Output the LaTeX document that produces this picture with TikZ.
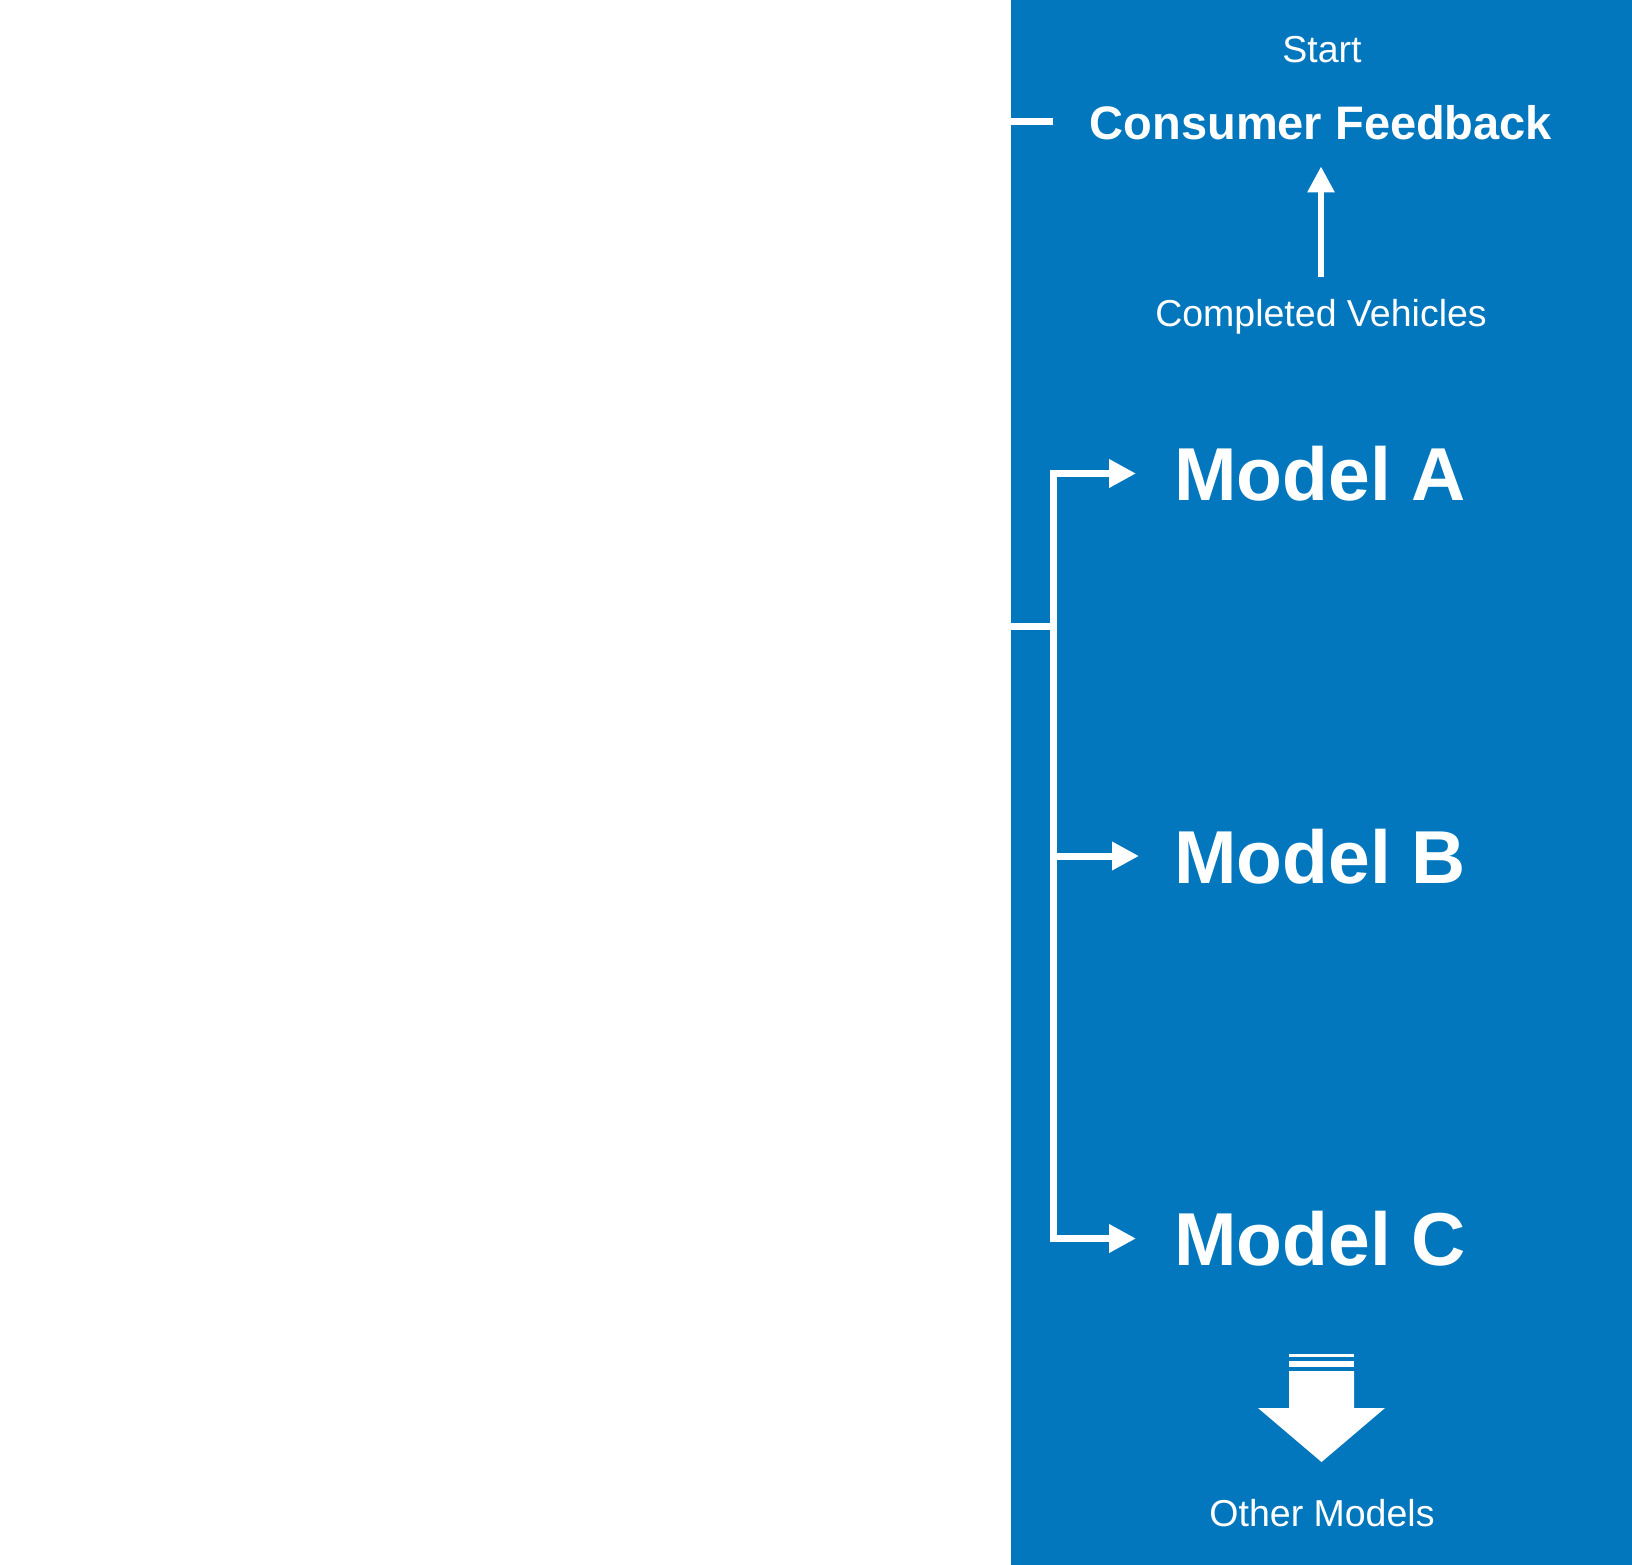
\documentclass[tikz,border=0pt]{standalone}
\usepackage{fontspec}
\setmainfont{Liberation Sans}
\usetikzlibrary{arrows.meta}
\definecolor{panel}{HTML}{0277BD}
\tikzset{
  txt/.style={text=white, inner sep=0pt},
  small/.style={txt, font=\fontsize{37.5}{44}\selectfont},
  head/.style={txt, font=\fontsize{47}{56}\selectfont\bfseries},
  model/.style={txt, anchor=west, font=\fontsize{75}{90}\selectfont\bfseries},
  wline/.style={draw=white, line width=7pt},
  mtip/.style={-{Triangle[length=27pt,width=27pt]}},
  uparrow/.style={draw=white, line width=6pt, -{Triangle[length=26pt,width=26pt]}},
}
\begin{document}
\begin{tikzpicture}[x=1pt,y=-1pt]
\useasboundingbox (0,0) rectangle (1632,1565);
\fill[white] (0,0) rectangle (1632,1565);
\fill[panel] (1011,0) rectangle (1632,1565);

\node[small] (start) at (1322,50) {Start};
\node[head] (cf) at (1321,123) {Consumer Feedback};
\node[small] (cv) at (1321,317) {Completed Vehicles};
\node[model] (ma) at (1174,474) {Model A};
\node[model] (mb) at (1174,857) {Model B};
\node[model] (mc) at (1174,1239) {Model C};
\node[small] (om) at (1322,1513) {Other Models};

% tick at Consumer Feedback
\coordinate (cfl) at (1011,122);
\draw[wline] (cfl) -- ++(42,0);

% arrow up
\draw[uparrow, shorten <=22pt, shorten >=26pt] (cv.north) -- (cf.south);

% bracket
\coordinate (jA) at (1053.5,473.5);
\coordinate (jB) at (1053.5,856);
\coordinate (jC) at (1053.5,1238.5);
\coordinate (tick) at (1011,626);
\draw[wline] (tick) -- (tick -| jA);
\draw[wline, line join=miter, {Triangle[length=27pt,width=27pt]}-{Triangle[length=27pt,width=27pt]}, shorten <=38pt, shorten >=38pt]
  (jA -| ma.west) -- (jA) -- (jC) -- (jC -| mc.west);
\draw[wline, mtip, shorten >=35pt] (jB) -- (jB -| mb.west);

% big down arrow
\fill[white] (1289,1354) rectangle (1354,1357);
\fill[white] (1289,1361) rectangle (1354,1367);
\fill[white] (1289,1371) -- (1354,1371) -- (1354,1408) -- (1385,1408) -- (1321.5,1462)
  -- (1258,1408) -- (1289,1408) -- cycle;
\end{tikzpicture}
\end{document}
